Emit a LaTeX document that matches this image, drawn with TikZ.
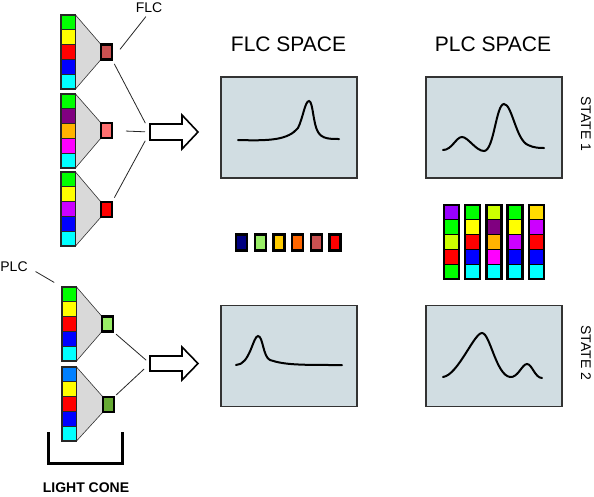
\documentclass[tikz,border=0pt]{standalone}
\usepackage{fontspec}
\setmainfont{Liberation Sans}
\usetikzlibrary{backgrounds}

\definecolor{cgreen}{HTML}{00FF00}
\definecolor{cyellow}{HTML}{FFFF00}
\definecolor{cred}{HTML}{FF0000}
\definecolor{cblue}{HTML}{0000FF}
\definecolor{ccyan}{HTML}{00FFFF}
\definecolor{cpurple}{HTML}{800080}
\definecolor{corange}{HTML}{FFB300}
\definecolor{cmagenta}{HTML}{FF00FF}
\definecolor{cviolet}{HTML}{CC00FF}
\definecolor{cindigo}{HTML}{9900FF}
\definecolor{csky}{HTML}{0080FF}
\definecolor{clime}{HTML}{CCFF00}
\definecolor{cgold}{HTML}{FFDD00}
\definecolor{qbrown}{HTML}{C85050}
\definecolor{qsalmon}{HTML}{FF7070}
\definecolor{qlight}{HTML}{99EE66}
\definecolor{qdark}{HTML}{66AA33}
\definecolor{qnavy}{HTML}{000080}
\definecolor{qgold}{HTML}{FFCC00}
\definecolor{qorange}{HTML}{FF6600}
\definecolor{panel}{HTML}{D1DDE2}

\begin{document}
\begin{tikzpicture}[x=1pt,y=-1pt,
	cell/.style={draw=black!85, line width=0.7pt, minimum width=14.5pt, minimum height=14.8pt, inner sep=0pt, outer sep=0pt, anchor=north west},
	bcell/.style={draw=black, line width=1.2pt, minimum width=15pt, minimum height=14.8pt, inner sep=0pt, outer sep=0pt, anchor=north west},
	frame/.style={draw=black!85, line width=1.5pt},
	flcsq/.style={draw=black, line width=2.2pt, minimum width=11pt, minimum height=15pt, inner sep=0pt, outer sep=0pt},
	cone/.style={fill=black!15, draw=black!80, line width=0.6pt},
	conn/.style={draw=black!85, line width=0.8pt},
	bigarrow/.style={draw=black, fill=white, line width=1.6pt, line join=miter},
	box/.style={draw=black!80, fill=panel, line width=1.5pt, minimum width=136pt, minimum height=101pt},
	curve/.style={draw=black, line width=2pt, line cap=round},
	title/.style={font=\fontsize{21}{25}\selectfont},
	small/.style={font=\fontsize{14}{16}\selectfont, inner sep=0pt}]
	\useasboundingbox (0,0) rectangle (594,496);

	%titles
	\node[title] (tflc) at (288.5,44) {FLC SPACE};
	\node[title] (tplc) at (493,44)   {PLC SPACE};
	\node[small, rotate=-90] (st1) at (586,124) {STATE 1};
	\node[small, rotate=-90] (st2) at (586,353) {STATE 2};

	%state 1 - stacks
	\foreach \c [count=\i] in {cgreen,cyellow,cred,cblue,ccyan}
		\node[cell, fill=\c] (s1c\i) at (61,{15+14.8*(\i-1)}) {};
	\foreach \c [count=\i] in {cgreen,cpurple,corange,cmagenta,ccyan}
		\node[cell, fill=\c] (s2c\i) at (61,{94+14.8*(\i-1)}) {};
	\foreach \c [count=\i] in {cgreen,cyellow,cviolet,cblue,ccyan}
		\node[cell, fill=\c] (s3c\i) at (61,{172+14.8*(\i-1)}) {};
	\draw[frame] (s1c1.north west) rectangle (s1c5.south east);
	\draw[frame] (s2c1.north west) rectangle (s2c5.south east);
	\draw[frame] (s3c1.north west) rectangle (s3c5.south east);

	%state 1 - squares
	\node[flcsq, fill=qbrown]  (sq1) at (106.5,52)    {};
	\node[flcsq, fill=qsalmon] (sq2) at (106.5,130.5) {};
	\node[flcsq, fill=cred]    (sq3) at (106.5,209.5) {};

	%state 2 - stacks
	\foreach \c [count=\i] in {cgreen,cyellow,cred,cblue,ccyan}
		\node[cell, fill=\c] (s4c\i) at (62,{287+14.8*(\i-1)}) {};
	\foreach \c [count=\i] in {csky,cyellow,cred,cblue,ccyan}
		\node[cell, fill=\c] (s5c\i) at (62,{367+14.8*(\i-1)}) {};
	\draw[frame] (s4c1.north west) rectangle (s4c5.south east);
	\draw[frame] (s5c1.north west) rectangle (s5c5.south east);

	%state 2 - squares
	\node[flcsq, fill=qlight] (sq4) at (107.5,324)   {};
	\node[flcsq, fill=qdark]  (sq5) at (108.5,404.5) {};

	%cones
	\begin{scope}[on background layer]
		\path[cone] (s1c1.north east) -- (sq1.north west) -- (sq1.south west) -- (s1c5.south east) -- cycle;
		\path[cone] (s2c1.north east) -- (sq2.north west) -- (sq2.south west) -- (s2c5.south east) -- cycle;
		\path[cone] (s3c1.north east) -- (sq3.north west) -- (sq3.south west) -- (s3c5.south east) -- cycle;
		\path[cone] (s4c1.north east) -- (sq4.north west) -- (sq4.south west) -- (s4c5.south east) -- cycle;
		\path[cone] (s5c1.north east) -- (sq5.north west) -- (sq5.south west) -- (s5c5.south east) -- cycle;
	\end{scope}

	%labels
	\node[small] (flc) at (149,7.5) {FLC};
	\node[small] (plc) at (14,267)  {PLC};
	\node[font=\bfseries\fontsize{14}{16}\selectfont, inner sep=0pt] (lc) at (86,488) {LIGHT CONE};

		%label lines
		\draw[conn, shorten <=5pt, shorten >=13pt] (flc.south) -- (sq1.south east);	%FLC--sq1
		\draw[conn, shorten <=9pt, shorten >=9pt] (plc.east) -- (s4c1.north west);	%PLC--stack 4

	%light cone bracket
	\draw[line width=3pt] (48,432) -- (48,463) -- (122,463) -- (122,432);

	%arrows
	\coordinate (ar1) at (150,132);
	\coordinate (ar2) at (150,363.5);
	\draw[bigarrow] (ar1) ++(0,-8) -- ++(32,0) -- ++(0,-9) -- ++(16,17) -- ++(-16,17) -- ++(0,-9) -- ++(-32,0) -- cycle;
	\draw[bigarrow] (ar2) ++(0,-7.5) -- ++(32,0) -- ++(0,-9) -- ++(16,16.5) -- ++(-16,16.5) -- ++(0,-9) -- ++(-32,0) -- cycle;

		%connectors
		\draw[conn, shorten <=5pt, shorten >=10pt] (sq1.south east) -- (ar1);	%sq1--arrow
		\draw[conn, shorten <=14pt, shorten >=5pt] (sq2.east) -- (ar1);			%sq2--arrow
		\draw[conn, shorten <=5pt, shorten >=10pt] (sq3.north east) -- (ar1);	%sq3--arrow
		\draw[conn, shorten <=4pt, shorten >=5pt] (sq4.south east) -- (ar2);	%sq4--arrow
		\draw[conn, shorten <=3pt, shorten >=8pt] (sq5.north east) -- (ar2);	%sq5--arrow

	%panels
	\node[box] (flc1) at (289,127.5) {};
	\node[box] (plc1) at (494,127.5) {};
	\node[box] (flc2) at (289,356)   {};
	\node[box] (plc2) at (494,356)   {};

		%curves
		\draw[curve] (238,140) .. controls (270,141) and (288,140) .. (298,128) .. controls (303,118) and (305,101) .. (309,101) .. controls (313,101) and (313,124) .. (318,132) .. controls (322,139) and (330,139) .. (339,139);
		\draw[curve] (443,150) .. controls (452,150) and (456,137) .. (462,137) .. controls (468,137) and (476,151) .. (484,151) .. controls (494,151) and (496,104) .. (504,104) .. controls (512,104) and (516,140) .. (528,145) .. controls (534,148) and (540,148) .. (544,148);
		\draw[curve] (236,365) .. controls (250,365) and (253,336) .. (258,336) .. controls (263,336) and (263,357) .. (270,360) .. controls (285,365) and (300,365) .. (342,365);
		\draw[curve] (443,377) .. controls (458,375) and (474,333) .. (482,333) .. controls (490,333) and (496,375) .. (510,377) .. controls (518,378) and (522,364) .. (527,364) .. controls (532,364) and (535,378) .. (542,378);

	%FLC space - squares
	\foreach \c [count=\i] in {qnavy,qlight,qgold,qorange,qbrown,cred}
		\node[flcsq, minimum height=16pt, fill=\c] (m\i) at ({241.5+18.7*(\i-1)},242.5) {};

	%PLC space - bars
	\foreach \c [count=\i] in {cindigo,cgreen,clime,cred,cgreen}
		\node[bcell, fill=\c] (b1c\i) at (444,{205+14.8*(\i-1)}) {};
	\foreach \c [count=\i] in {cgreen,cyellow,cred,cblue,ccyan}
		\node[bcell, fill=\c] (b2c\i) at (465.2,{205+14.8*(\i-1)}) {};
	\foreach \c [count=\i] in {clime,cpurple,corange,cmagenta,ccyan}
		\node[bcell, fill=\c] (b3c\i) at (486.4,{205+14.8*(\i-1)}) {};
	\foreach \c [count=\i] in {cgreen,cyellow,cviolet,cblue,ccyan}
		\node[bcell, fill=\c] (b4c\i) at (507.6,{205+14.8*(\i-1)}) {};
	\foreach \c [count=\i] in {cgold,cviolet,cred,cblue,ccyan}
		\node[bcell, fill=\c] (b5c\i) at (528.8,{205+14.8*(\i-1)}) {};
	\foreach \b in {1,...,5}
		\draw[line width=2.5pt] (b\b c1.north west) rectangle (b\b c5.south east);
\end{tikzpicture}
\end{document}
